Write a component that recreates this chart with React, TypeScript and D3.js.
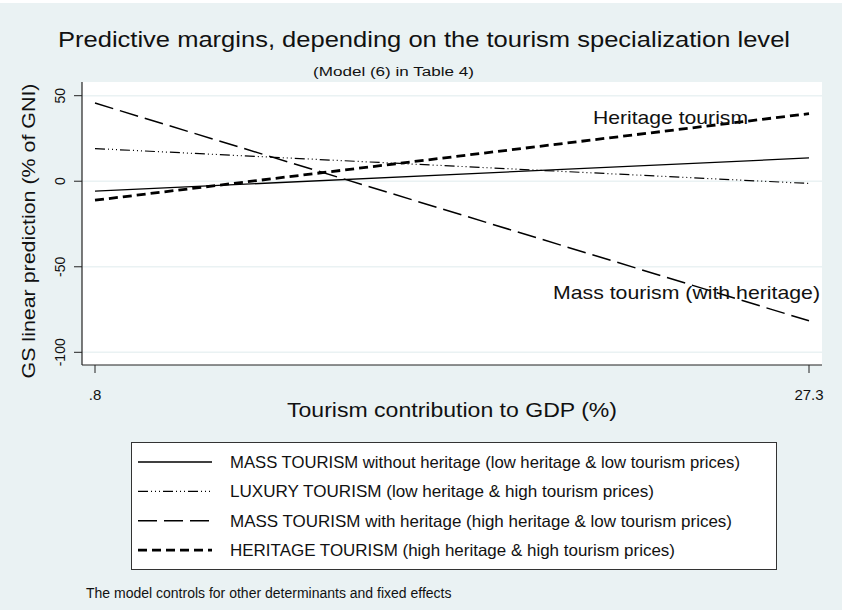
import React from "react";
import * as d3 from "d3";

const xDomain = [0.8, 27.3];
const xTickLabels = [".8", "27.3"];
const yTicks = [50, 0, -50, -100];

const seriesNames = [
  "MASS TOURISM without heritage (low heritage & low tourism prices)",
  "LUXURY TOURISM (low heritage & high tourism prices)",
  "MASS TOURISM with heritage (high heritage & low tourism prices)",
  "HERITAGE TOURISM (high heritage & high tourism prices)",
];
const massNoHeritage = [-5.8, 13.6];
const luxury = [19.1, -1.3];
const massWithHeritage = [45.7, -81.6];
const heritage = [-11.1, 39.5];

const seriesValues = [massNoHeritage, luxury, massWithHeritage, heritage];
const seriesStyles = [
  { dash: "none", width: 1.3 },
  { dash: "10 3 1 3 1 3 1 3", width: 1.2 },
  { dash: "19 7", width: 1.5 },
  { dash: "9 5", width: 2.8 },
];
const legendTextLen = [510, 424, 502, 445];

const FONT = "'Liberation Sans', Arial, sans-serif";

export default function App() {
  const W = 842, H = 610;
  const plot = { left: 82, right: 822, top: 82, bottom: 365 };
  const x = d3.scaleLinear().domain(xDomain).range([95, 809]);
  const y = d3.scaleLinear().domain([-100, 50]).range([352.3, 95.7]);
  const line = d3
    .line<[number, number]>()
    .x((d) => x(d[0]))
    .y((d) => y(d[1]));
  const bg = "#eaf2f3";
  const axisColor = "#222";

  return (
    <svg
      width={W}
      height={H}
      style={{ position: "absolute", left: 0, top: 0 }}
      xmlns="http://www.w3.org/2000/svg"
    >
      <rect x={0} y={0} width={W} height={H} fill={bg} />
      <rect x={0} y={0} width={W} height={3} fill="#fff" />
      {/* title */}
      <text
        x={58}
        y={47}
        fontFamily={FONT}
        fontSize={22}
        textLength={732}
        lengthAdjust="spacingAndGlyphs"
        fill="#111"
      >
        Predictive margins, depending on the tourism specialization level
      </text>
      <text
        x={313}
        y={76}
        fontFamily={FONT}
        fontSize={12}
        textLength={161}
        lengthAdjust="spacingAndGlyphs"
        fill="#111"
      >
        (Model (6) in Table 4)
      </text>
      {/* plot area */}
      <rect
        x={plot.left}
        y={plot.top}
        width={plot.right - plot.left}
        height={plot.bottom - plot.top}
        fill="#fff"
      />
      {yTicks.map((t) => (
        <line
          key={"g" + t}
          x1={plot.left}
          x2={plot.right}
          y1={y(t)}
          y2={y(t)}
          stroke={bg}
          strokeWidth={1.5}
        />
      ))}
      {/* series */}
      {seriesValues.map((vals, i) => (
        <path
          key={"s" + i}
          d={line(vals.map((v, j) => [xDomain[j], v] as [number, number])) || ""}
          fill="none"
          stroke="#000"
          strokeWidth={seriesStyles[i].width}
          strokeDasharray={seriesStyles[i].dash}
        />
      ))}
      {/* in-plot labels */}
      <text
        x={593}
        y={124}
        fontFamily={FONT}
        fontSize={19}
        textLength={155}
        lengthAdjust="spacingAndGlyphs"
        fill="#111"
      >
        Heritage tourism
      </text>
      <text
        x={553}
        y={299}
        fontFamily={FONT}
        fontSize={19}
        textLength={267}
        lengthAdjust="spacingAndGlyphs"
        fill="#111"
      >
        Mass tourism (with heritage)
      </text>
      {/* axes */}
      <line
        x1={plot.left}
        x2={plot.left}
        y1={plot.top}
        y2={plot.bottom}
        stroke={axisColor}
        strokeWidth={1.2}
      />
      <line
        x1={plot.left}
        x2={plot.right}
        y1={plot.bottom}
        y2={plot.bottom}
        stroke={axisColor}
        strokeWidth={1.2}
      />
      {yTicks.map((t) => (
        <g key={"yt" + t}>
          <line
            x1={plot.left - 8}
            x2={plot.left}
            y1={y(t)}
            y2={y(t)}
            stroke={axisColor}
            strokeWidth={1}
          />
          <text
            transform={`translate(65,${y(t)}) rotate(-90)`}
            textAnchor="middle"
            fontFamily={FONT}
            fontSize={14}
            fill="#111"
          >
            {t}
          </text>
        </g>
      ))}
      {xDomain.map((v, i) => (
        <g key={"xt" + i}>
          <line
            x1={x(v)}
            x2={x(v)}
            y1={plot.bottom}
            y2={plot.bottom + 8}
            stroke={axisColor}
            strokeWidth={1}
          />
          <text
            x={x(v)}
            y={400}
            textAnchor="middle"
            fontFamily={FONT}
            fontSize={15}
            fill="#111"
          >
            {xTickLabels[i]}
          </text>
        </g>
      ))}
      <text
        transform="translate(35,231) rotate(-90)"
        textAnchor="middle"
        fontFamily={FONT}
        fontSize={19}
        textLength={295}
        lengthAdjust="spacingAndGlyphs"
        fill="#111"
      >
        GS linear prediction (% of GNI)
      </text>
      <text
        x={287}
        y={417}
        fontFamily={FONT}
        fontSize={20}
        textLength={330}
        lengthAdjust="spacingAndGlyphs"
        fill="#111"
      >
        Tourism contribution to GDP (%)
      </text>
      {/* legend */}
      <rect
        x={131.5}
        y={442.5}
        width={645}
        height={127}
        fill="#fff"
        stroke="#333"
        strokeWidth={1}
      />
      {seriesNames.map((name, i) => {
        const cy = 462 + i * 29.4;
        return (
          <g key={"lg" + i}>
            <line
              x1={138}
              x2={212}
              y1={cy}
              y2={cy}
              stroke="#000"
              strokeWidth={seriesStyles[i].width}
              strokeDasharray={seriesStyles[i].dash}
            />
            <text
              x={230}
              y={cy + 6}
              fontFamily={FONT}
              fontSize={16.5}
              textLength={legendTextLen[i]}
              lengthAdjust="spacingAndGlyphs"
              fill="#111"
            >
              {name}
            </text>
          </g>
        );
      })}
      <text x={86} y={598} fontFamily={FONT} fontSize={14} fill="#111">
        The model controls for other determinants and fixed effects
      </text>
    </svg>
  );
}
